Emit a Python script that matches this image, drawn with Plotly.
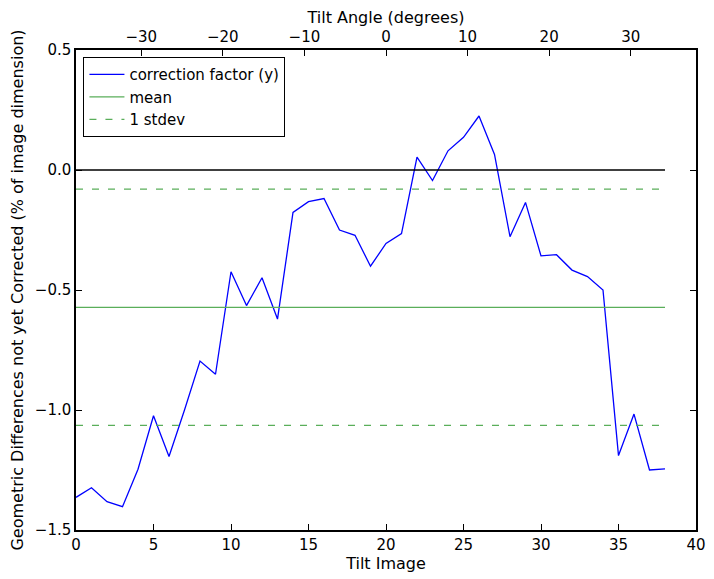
import plotly.graph_objects as go

tilt_image = list(range(39))
correction_y = [-1.364, -1.324, -1.382, -1.403, -1.247, -1.024, -1.194, -1.0, -0.796, -0.851,
                -0.424, -0.565, -0.449, -0.621, -0.177, -0.132, -0.119, -0.250, -0.272, -0.401,
                -0.306, -0.265, 0.054, -0.044, 0.080, 0.136, 0.225, 0.065, -0.278, -0.135,
                -0.358, -0.353, -0.417, -0.444, -0.500, -1.190, -1.017, -1.250, -1.245]
mean_val = -0.572
stdev_val = 0.492
angle_range = [-38, 38]
angle_ticks = [-30, -20, -10, 0, 10, 20, 30]
x_ticks = [0, 5, 10, 15, 20, 25, 30, 35, 40]
y_ticks = [0.5, 0.0, -0.5, -1.0, -1.5]

x_end = [tilt_image[0], tilt_image[-1]]

FONT = "DejaVu Sans"
FS = 15
TFS = 16
GREEN = "#5aae5a"

fig = go.Figure()
fig.add_trace(go.Scatter(x=tilt_image, y=correction_y, mode="lines", name="correction factor (y)",
                         line=dict(color="#0000ff", width=1.3)))
fig.add_trace(go.Scatter(x=x_end, y=[mean_val, mean_val], mode="lines", name="mean",
                         line=dict(color=GREEN, width=1.3)))
fig.add_trace(go.Scatter(x=x_end, y=[mean_val + stdev_val] * 2, mode="lines", name="1 stdev",
                         line=dict(color=GREEN, width=1.3, dash="7px,9px")))
fig.add_trace(go.Scatter(x=x_end, y=[mean_val - stdev_val] * 2, mode="lines", showlegend=False,
                         line=dict(color=GREEN, width=1.3, dash="7px,9px")))
fig.add_trace(go.Scatter(x=x_end, y=[0, 0], mode="lines", showlegend=False,
                         line=dict(color="black", width=1.3)))
# empty trace so the top (tilt angle) axis is drawn
fig.add_trace(go.Scatter(x=angle_range, y=[None, None], xaxis="x2", mode="lines",
                         showlegend=False, hoverinfo="skip"))

axis_common = dict(showgrid=False, zeroline=False, showline=True, linecolor="black", linewidth=1.5,
                   ticks="inside", ticklen=6, tickcolor="black", tickwidth=1, automargin=False,
                   tickfont=dict(family=FONT, size=FS, color="black"))

fig.update_layout(
    width=706, height=571,
    margin=dict(l=68, r=18, t=42, b=49),
    paper_bgcolor="white", plot_bgcolor="white",
    font=dict(family=FONT, size=FS, color="black"),
    xaxis=dict(range=[0, 40], tickvals=x_ticks, mirror=True,
               title=dict(text="Tilt Image", standoff=2, font=dict(family=FONT, size=TFS)),
               **axis_common),
    xaxis2=dict(range=angle_range, tickvals=angle_ticks, overlaying="x", side="top", anchor="y",
                title=dict(text="Tilt Angle (degrees)", font=dict(family=FONT, size=TFS)),
                **axis_common),
    yaxis=dict(range=[-1.5, 0.5], tickvals=y_ticks, tickformat=".1f", mirror="ticks",
               title=dict(text="Geometric Differences not yet Corrected (% of image dimension)",
                          font=dict(family=FONT, size=TFS)),
               **axis_common),
    legend=dict(x=0.012, y=0.985, xanchor="left", yanchor="top", bgcolor="white",
                bordercolor="black", borderwidth=1, font=dict(family=FONT, size=FS),
                tracegroupgap=0, itemwidth=35),
    showlegend=True,
)

fig.write_html("out.html")
